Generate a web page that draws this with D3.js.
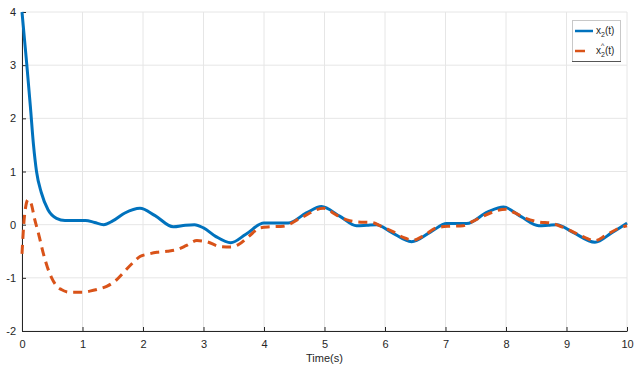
<!DOCTYPE html>
<html>
<head>
<meta charset="utf-8">
<script src="https://cdn.jsdelivr.net/npm/d3@7"></script>
<style>
  body { margin: 0; background: #fff; }
  text { font-family: "Liberation Sans", Arial, sans-serif; fill: #262626; }
</style>
</head>
<body>
<div id="chart"></div>
<script>
// ---- data ----
var tBlue = [0, 0.04, 0.08, 0.14, 0.19, 0.24, 0.32, 0.43, 0.57, 0.71, 0.9, 1.05, 1.2, 1.35, 1.5, 1.7, 1.95,
  2.2, 2.5, 2.7, 2.85, 3.0, 3.2, 3.45, 3.7, 4.0, 4.2, 4.4, 4.7, 4.95, 5.25, 5.53, 5.7, 5.86, 6.1, 6.44, 6.75,
  7.02, 7.2, 7.35, 7.7, 7.96, 8.25, 8.54, 8.7, 8.84, 9.1, 9.47, 9.75, 10];
var xBlue = [4.0, 3.5, 3.0, 2.2, 1.5, 1.0, 0.6, 0.28, 0.12, 0.08, 0.08, 0.08, 0.04, 0.0, 0.07, 0.22, 0.31,
  0.17, -0.04, -0.01, 0.0, -0.06, -0.22, -0.34, -0.18, 0.03, 0.03, 0.03, 0.22, 0.34, 0.16, -0.02, -0.01, 0.0, -0.14, -0.32, -0.14,
  0.02, 0.02, 0.02, 0.24, 0.33, 0.15, -0.02, -0.01, 0.0, -0.14, -0.33, -0.15, 0.03];

var tOrange = [0, 0.04, 0.1, 0.15, 0.21, 0.28, 0.35, 0.42, 0.49, 0.57, 0.65, 0.79, 1.0, 1.12, 1.27, 1.4, 1.55, 1.67, 1.82, 1.95,
  2.1, 2.23, 2.4, 2.56, 2.72, 2.89, 3.05, 3.27, 3.45, 3.57, 3.75, 3.93, 4.1, 4.32, 4.6, 4.98, 5.2, 5.37, 5.55, 5.78, 5.95,
  6.13, 6.3, 6.47, 6.65, 6.85, 7.05, 7.29, 7.45, 7.62, 8.0, 8.15, 8.33, 8.55, 8.74, 8.92, 9.1, 9.3, 9.47, 9.65, 9.88, 10];
var xOrange = [-0.55, 0.15, 0.47, 0.4, 0.1, -0.2, -0.53, -0.8, -1.0, -1.15, -1.22, -1.27, -1.27, -1.25, -1.21, -1.16, -1.05, -0.91, -0.73, -0.6,
  -0.55, -0.52, -0.5, -0.47, -0.39, -0.3, -0.32, -0.41, -0.42, -0.38, -0.22, -0.06, -0.04, -0.03, 0.12, 0.31, 0.18, 0.09, 0.05, 0.04, -0.04,
  -0.13, -0.24, -0.29, -0.2, -0.06, -0.03, -0.02, 0.06, 0.16, 0.29, 0.22, 0.12, 0.05, 0.03, -0.04, -0.13, -0.24, -0.3, -0.2, -0.06, -0.02];

var xTicks = [0, 1, 2, 3, 4, 5, 6, 7, 8, 9, 10];
var yTicks = [-2, -1, 0, 1, 2, 3, 4];

var W = 635, H = 371;
var mLeft = 22, mRight = 627, mTop = 12, mBottom = 331;

var svg = d3.select("#chart").append("svg")
    .attr("width", W)
    .attr("height", H);

var x = d3.scaleLinear().domain([0, 10]).range([mLeft, mRight]);
var y = d3.scaleLinear().domain([-2, 4]).range([mBottom, mTop]);

// grid
svg.append("g").selectAll("line")
    .data(xTicks)
    .enter().append("line")
    .attr("x1", function(d) { return x(d); })
    .attr("x2", function(d) { return x(d); })
    .attr("y1", mTop).attr("y2", mBottom)
    .attr("stroke", "#e6e6e6").attr("stroke-width", 1);

svg.append("g").selectAll("line")
    .data(yTicks)
    .enter().append("line")
    .attr("x1", mLeft).attr("x2", mRight)
    .attr("y1", function(d) { return y(d); })
    .attr("y2", function(d) { return y(d); })
    .attr("stroke", "#e6e6e6").attr("stroke-width", 1);

// axes
var fmt = function(d) { return String(d); };
var xAxis = d3.axisBottom(x).tickValues(xTicks).tickFormat(fmt).tickSizeInner(-4).tickSizeOuter(0).tickPadding(9);
var yAxis = d3.axisLeft(y).tickValues(yTicks).tickFormat(fmt).tickSizeInner(-4).tickSizeOuter(0).tickPadding(6);

var gx = svg.append("g")
    .attr("transform", "translate(0," + mBottom + ")")
    .call(xAxis);
var gy = svg.append("g")
    .attr("transform", "translate(" + mLeft + ",0)")
    .call(yAxis);

[gx, gy].forEach(function(g) {
  g.select(".domain").attr("stroke", "#262626");
  g.selectAll(".tick line").attr("stroke", "#262626");
  g.selectAll(".tick text").attr("font-size", 11).attr("fill", "#4d4d4d")
    .attr("font-family", "Liberation Sans, Arial, sans-serif");
});
gy.selectAll(".tick text").attr("x", -6);

svg.append("text")
    .attr("x", (mLeft + mRight) / 2)
    .attr("y", 362)
    .attr("text-anchor", "middle")
    .attr("font-size", 11)
    .attr("fill", "#333")
    .text("Time(s)");

// lines
var lineGen = d3.line()
    .x(function(d) { return x(d[0]); })
    .y(function(d) { return y(d[1]); })
    .curve(d3.curveMonotoneX);

var blueData = tBlue.map(function(t, i) { return [t, xBlue[i]]; });
var orangeData = tOrange.map(function(t, i) { return [t, xOrange[i]]; });

svg.append("path")
    .datum(blueData)
    .attr("d", lineGen)
    .attr("fill", "none")
    .attr("stroke", "#0072BD")
    .attr("stroke-width", 3);

svg.append("path")
    .datum(orangeData)
    .attr("d", lineGen)
    .attr("fill", "none")
    .attr("stroke", "#D95319")
    .attr("stroke-width", 3)
    .attr("stroke-dasharray", "9,6");

// legend
var lg = svg.append("g");
lg.append("rect")
    .attr("x", 572.5).attr("y", 20.5)
    .attr("width", 48).attr("height", 41)
    .attr("fill", "#fff")
    .attr("stroke", "#c8c8c8");
lg.append("line")
    .attr("x1", 572).attr("x2", 621).attr("y1", 61.5).attr("y2", 61.5)
    .attr("stroke", "#555");

lg.append("line")
    .attr("x1", 575).attr("x2", 593).attr("y1", 31).attr("y2", 31)
    .attr("stroke", "#0072BD").attr("stroke-width", 2.5);
lg.append("line")
    .attr("x1", 575).attr("x2", 593).attr("y1", 51).attr("y2", 51)
    .attr("stroke", "#D95319").attr("stroke-width", 2.5)
    .attr("stroke-dasharray", "10,9");

var t1 = lg.append("text").attr("x", 596).attr("y", 34).attr("font-size", 10);
t1.append("tspan").text("x");
t1.append("tspan").attr("font-size", 7).attr("dy", 3).text("2");
t1.append("tspan").attr("dy", -3).text("(t)");

var t2 = lg.append("text").attr("x", 596).attr("y", 54).attr("font-size", 10);
t2.append("tspan").text("x");
t2.append("tspan").attr("font-size", 7).attr("dy", 3).text("2");
t2.append("tspan").attr("dy", -3).text("(t)");
lg.append("text").attr("x", 601).attr("y", 48).attr("font-size", 7).text("^");
</script>
</body>
</html>
